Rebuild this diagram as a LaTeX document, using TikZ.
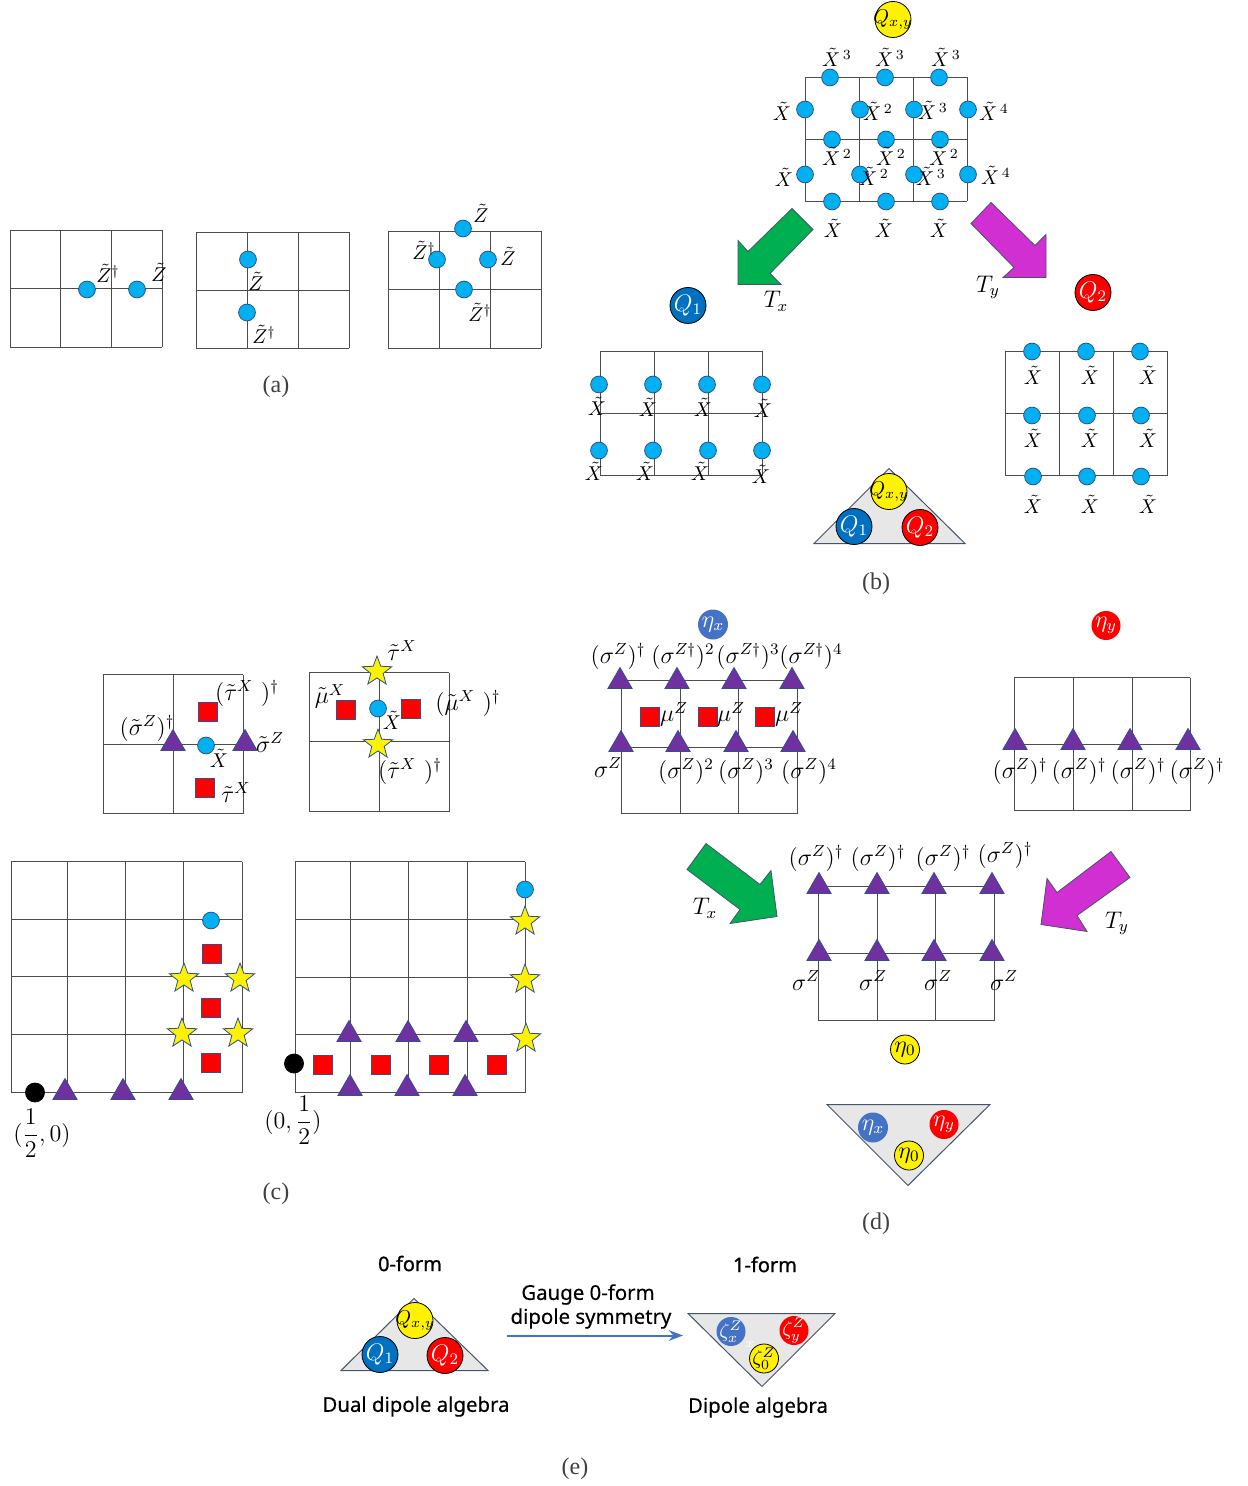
\documentclass[tikz,border=0pt]{standalone}
\usepackage{fontspec}
\usepackage{amsmath}
\usetikzlibrary{positioning,arrows.meta,shapes.geometric}
\newfontfamily\labelsans[FakeBold=0.3]{Noto Sans}
\newfontfamily\labelbold[FakeBold=1.2]{Noto Sans}
\newfontfamily\capserif{Liberation Serif}
\definecolor{dotblue}{HTML}{00B0F0}
\definecolor{edgeblue}{HTML}{2F528F}
\definecolor{violet}{HTML}{7030A0}
\definecolor{qblue}{HTML}{0070C0}
\definecolor{etablue}{HTML}{4472C4}
\definecolor{arrgreen}{HTML}{00B050}
\definecolor{arrpink}{HTML}{D22FD2}
\definecolor{algebra}{HTML}{E7E7E7}
\definecolor{algedge}{HTML}{44546A}

\begin{document}
\begin{tikzpicture}[
        x=0.5pt, y=-0.5pt,
        gridl/.style={draw=black!70, line width=0.5pt},
        qdot/.style={circle, draw=edgeblue, fill=dotblue, inner sep=0pt, minimum size=8.4pt, line width=0.4pt},
        tri/.style={regular polygon, regular polygon sides=3, draw=edgeblue, fill=violet, inner sep=0pt, minimum size=14pt, line width=0.4pt},
        sq/.style={rectangle, draw=edgeblue, fill=red, inner sep=0pt, minimum size=9.5pt, line width=0.4pt},
        strn/.style={star, star points=5, star point ratio=2.4, draw=edgeblue, fill=yellow, inner sep=0pt, minimum size=15.5pt, line width=0.4pt},
        origin/.style={circle, draw=black, fill=black, inner sep=0pt, minimum size=9.5pt},
        chg/.style={circle, draw=black, line width=0.4pt, inner sep=0pt, minimum size=18pt},
        chgs/.style={circle, inner sep=0pt, minimum size=14.5pt},
        lbl/.style={inner sep=0pt, font=\large},
        lblx/.style={inner sep=0pt},
        captxt/.style={inner sep=0pt, text=black!75, font=\capserif\large},
        sans/.style={inner sep=0pt, font=\labelsans\fontsize{10.2}{12}\selectfont},
        sansb/.style={inner sep=0pt, font=\labelbold\fontsize{10}{12}\selectfont},
        alg/.style={draw=algedge, fill=algebra, line width=0.5pt},
        bigarr/.style={draw=algedge, line width=0.4pt},
    ]
    \useasboundingbox (0,-0.5) rectangle (1247,1485.5);

    % Panel (a)
    \foreach \x in {10,60,111,162} \draw[gridl] (\x,230) -- (\x,347);
    \foreach \y in {230,288,347} \draw[gridl] (10,\y) -- (162,\y);
    \foreach \x in {196,247,298,349} \draw[gridl] (\x,232) -- (\x,348);
    \foreach \y in {232,290,348} \draw[gridl] (196,\y) -- (349,\y);
    \foreach \x in {388,439,490,541} \draw[gridl] (\x,231) -- (\x,348);
    \foreach \y in {231,289,348} \draw[gridl] (388,\y) -- (541,\y);
    \foreach \x/\y [count=\i] in {87/289,137/289,248/259,247/312,463/228,437/259,488/259,464/289}
        \node[qdot] (ad\i) at (\x,\y) {};
    \foreach \x/\y [count=\i] in {159/272,256/281,481/213,508/256}
        \node[lblx] (az\i) at (\x,\y) {$\tilde{Z}$};
    \foreach \x/\y [count=\i] in {108/273,264/334,424/250,480/312}
        \node[lblx] (azd\i) at (\x,\y) {$\tilde{Z}^{\dagger}$};
    \node[captxt] (capa) at (276,386) {(a)};

    % Panel (b), top lattice
    \foreach \x in {805,859,913,967} \draw[gridl] (\x,77) -- (\x,201);
    \foreach \y in {77,139,201} \draw[gridl] (805,\y) -- (967,\y);
    \foreach \x/\y [count=\i] in {830/77,885/77,939/77,805/109,860/109,914/109,968/109,832/139,886/139,940/139,805/174,860/174,914/174,968/174,832/201,886/201,940/201}
        \node[qdot] (bt\i) at (\x,\y) {};
    \foreach \x/\y/\t [count=\i] in {837/57/3,890/57/3,946/57/3,878/111/2,933/110/3,994/111/4,837/156/2,891/156/2,944/156/2,874/176/2,931/176/3,996/175/4}
        \node[lblx] (btl\i) at (\x,\y) {$\tilde{X}^{\,\t}$};
    \foreach \x/\y [count=\i] in {782/111,784/177,833/228,884/228,939/228}
        \node[lblx] (btx\i) at (\x,\y) {$\tilde{X}$};
    \node[chg, fill=yellow, label={center:$Q_{x,y}$}] (qxy) at (893,19) {};

    % Panel (b), arrows
    \draw[bigarr, fill=arrgreen] (792,208) -- (813,229) -- (770,273) -- (781,284) -- (738,284) -- (738,240) -- (748,251) -- cycle;
    \draw[bigarr, fill=arrpink] (991,202) -- (971,223) -- (1014,267) -- (1003,277) -- (1046,277) -- (1046,234) -- (1035,245) -- cycle;
    \node[lbl] (tx1) at (776,301) {$T_x$};
    \node[lbl] (ty1) at (988,287) {$T_y$};

    % Panel (b), left and right lattices
    \node[chg, fill=qblue, label={center:\large\textcolor{white}{$Q_1$}}] (q1) at (688,305) {};
    \node[chg, fill=red, label={center:\large\textcolor{white}{$Q_2$}}] (q2) at (1093,292) {};
    \foreach \x in {600,654,708,762} \draw[gridl] (\x,351) -- (\x,475);
    \foreach \y in {351,413,475} \draw[gridl] (600,\y) -- (762,\y);
    \foreach \x/\y [count=\i] in {599/384,653/384,707/384,762/384,599/450,653/450,708/450,762/450}
        \node[qdot] (bl\i) at (\x,\y) {};
    \foreach \x/\y [count=\i] in {597/406,648/407,703/407,763/408,594/471,645/471,700/471,761/474}
        \node[lblx] (blx\i) at (\x,\y) {$\tilde{X}$};
    \foreach \x in {1005,1059,1113,1167} \draw[gridl] (\x,351) -- (\x,475);
    \foreach \y in {351,413,475} \draw[gridl] (1005,\y) -- (1167,\y);
    \foreach \x/\y [count=\i] in {1032/351,1086/351,1140/351,1032/415,1087/415,1141/415,1033/476,1087/476,1141/476}
        \node[qdot] (br\i) at (\x,\y) {};
    \foreach \x/\y [count=\i] in {1033/375,1090/375,1148/375,1033/438,1090/438,1148/438,1033/504,1090/504,1148/504}
        \node[lblx] (brx\i) at (\x,\y) {$\tilde{X}$};

    % Panel (b), algebra
    \draw[alg] (889,468) -- (965,543) -- (814,543) -- cycle;
    \node[chg, fill=yellow, label={center:$Q_{x,y}$}] (tqxy) at (889,491) {};
    \node[chg, fill=qblue, label={center:\large\textcolor{white}{$Q_1$}}] (tq1) at (854,526) {};
    \node[chg, fill=red, label={center:\large\textcolor{white}{$Q_2$}}] (tq2) at (920,527) {};
    \node[captxt] (capb) at (876,583) {(b)};

    % Panel (c), small plaquettes
    \foreach \x in {103,173,243} \draw[gridl] (\x,674) -- (\x,813);
    \foreach \y in {674,744,813} \draw[gridl] (103,\y) -- (243,\y);
    \foreach \x in {309,379,449} \draw[gridl] (\x,672) -- (\x,811);
    \foreach \y in {672,741,811} \draw[gridl] (309,\y) -- (449,\y);
    \foreach \x/\y [count=\i] in {208/711,205/787,346/709,411/708}
        \node[sq] (cs\i) at (\x,\y) {};
    \node[tri] (ct1) at (173,743) {};
    \node[tri] (ct2) at (245,743) {};
    \node[qdot] (cd1) at (206,745) {};
    \node[qdot] (cd2) at (378,708) {};
    \node[strn] (cst1) at (377,671) {};
    \node[strn] (cst2) at (378,744) {};
    \node[lbl] at (247,693) (cl1) {$(\tilde{\tau}^{X}\ )^{\dagger}$};
    \node[lbl] at (147,728) (cl2) {$(\tilde{\sigma}^{Z})^{\dagger}$};
    \node[lbl] at (270,742) (cl3) {$\tilde{\sigma}^{Z}$};
    \node[lblx] at (219,758) (cl4) {$\tilde{X}$};
    \node[lbl] at (236,792) (cl5) {$\tilde{\tau}^{X}$};
    \node[lbl] at (402,650) (cl6) {$\tilde{\tau}^{X}$};
    \node[lbl] at (330,696) (cl7) {$\tilde{\mu}^{X}$};
    \node[lbl] at (468,703) (cl8) {$(\tilde{\mu}^{X}\ )^{\dagger}$};
    \node[lblx] at (392,720) (cl9) {$\tilde{X}$};
    \node[lbl] at (410,771) (cl10) {$(\tilde{\tau}^{X}\ )^{\dagger}$};

    % Panel (c), large lattices
    \foreach \x in {11,67,125,183,242} \draw[gridl] (\x,861) -- (\x,1092);
    \foreach \y in {861,919,976,1034,1092} \draw[gridl] (11,\y) -- (242,\y);
    \foreach \x in {295,350,408,467,525} \draw[gridl] (\x,861) -- (\x,1092);
    \foreach \y in {861,919,977,1034,1092} \draw[gridl] (295,\y) -- (525,\y);
    \node[qdot] (cd3) at (211,920) {};
    \node[qdot] (cd4) at (525,889) {};
    \foreach \x/\y [count=\i] in {212/953,211/1007,211/1062,323/1064,381/1064,439/1064,497/1064}
        \node[sq] (cbs\i) at (\x,\y) {};
    \foreach \x/\y [count=\i] in {184/978,240/978,182/1033,238/1033,525/921,525/979,526/1038}
        \node[strn] (cbst\i) at (\x,\y) {};
    \foreach \x/\y [count=\i] in {65/1092,123/1092,181/1092,349/1034,408/1034,466/1034,350/1088,407/1088,465/1088}
        \node[tri] (cbt\i) at (\x,\y) {};
    \node[origin] (o1) at (35,1092) {};
    \node[origin] (o2) at (294,1063) {};
    \node[lbl] (ol1) at (42,1133) {$(\dfrac{1}{2},0)$};
    \node[lbl] (ol2) at (293,1120) {$(0,\dfrac{1}{2})$};
    \node[captxt] (capc) at (276,1193) {(c)};

    % Panel (d), top lattices
    \node[chgs, minimum size=15pt, fill=etablue, label={center:\large\textcolor{white}{$\eta_x$}}] (ex) at (713,624) {};
    \node[chgs, fill=red, label={center:\large\textcolor{white}{$\eta_y$}}] (ey) at (1106,625) {};
    \foreach \x in {621,680,738,797} \draw[gridl] (\x,680) -- (\x,813);
    \foreach \y in {680,747,813} \draw[gridl] (621,\y) -- (797,\y);
    \foreach \x/\y [count=\i] in {620/681,677/681,734/681,792/681,621/744,678/744,736/744,793/744}
        \node[tri] (dt\i) at (\x,\y) {};
    \foreach \x [count=\i] in {650,708,765} \node[sq] (ds\i) at (\x,716) {};
    \foreach \x [count=\i] in {674,731,789} \node[lbl] (dm\i) at (\x,714) {$\mu^{Z}$};
    \node[lbl] (dl1) at (618,656) {$(\sigma^{Z})^{\dagger}$};
    \node[lbl] (dl2) at (683,656) {$(\sigma^{Z\dagger})^{2}$};
    \node[lbl] (dl3) at (748,656) {$(\sigma^{Z\dagger})^{3}$};
    \node[lbl] (dl4) at (811,656) {$(\sigma^{Z\dagger})^{4}$};
    \node[lbl] (dl5) at (608,767) {$\sigma^{Z}$};
    \node[lbl] (dl6) at (686,771) {$(\sigma^{Z})^{2}$};
    \node[lbl] (dl7) at (746,771) {$(\sigma^{Z})^{3}$};
    \node[lbl] (dl8) at (809,771) {$(\sigma^{Z})^{4}$};
    \foreach \x in {1014,1073,1132,1190} \draw[gridl] (\x,677) -- (\x,810);
    \foreach \y in {677,744,810} \draw[gridl] (1014,\y) -- (1190,\y);
    \foreach \x [count=\i] in {1015,1073,1130,1188} \node[tri] (dr\i) at (\x,742) {};
    \foreach \x [count=\i] in {1020,1079,1138,1197} \node[lbl] (drl\i) at (\x,771) {$(\sigma^{Z})^{\dagger}$};

    % Panel (d), arrows
    \draw[bigarr, fill=arrgreen] (706,843) -- (687,869) -- (740,909) -- (730,923) -- (777,916) -- (771,870) -- (760,884) -- cycle;
    \draw[bigarr, fill=arrpink] (1111,851) -- (1130,877) -- (1077,915) -- (1087,931) -- (1041,924) -- (1047,878) -- (1057,892) -- cycle;
    \node[lbl] (tx2) at (705,908) {$T_x$};
    \node[lbl] (ty2) at (1117,923) {$T_y$};

    % Panel (d), bottom lattice
    \foreach \x in {818,877,935,994} \draw[gridl] (\x,886) -- (\x,1020);
    \foreach \y in {886,953,1020} \draw[gridl] (818,\y) -- (994,\y);
    \foreach \x [count=\i] in {819,877,934,992} {
        \node[tri] (dbt\i) at (\x,886) {};
        \node[tri] (dbu\i) at (\x,953) {};
    }
    \foreach \x/\y [count=\i] in {816/858,878/858,943/858,1005/855}
        \node[lbl] (dbl\i) at (\x,\y) {$(\sigma^{Z})^{\dagger}$};
    \foreach \x [count=\i] in {806,873,938,1004} \node[lbl] (dbz\i) at (\x,980) {$\sigma^{Z}$};
    \node[chgs, draw=black, line width=0.4pt, fill=yellow, label={center:\large$\eta_0$}] (e0) at (905,1049) {};

    % Panel (d), algebra
    \draw[alg] (827,1104) -- (990,1104) -- (908,1185) -- cycle;
    \node[chgs, minimum size=15pt, fill=etablue, label={center:\large\textcolor{white}{$\eta_x$}}] (tex) at (873,1127) {};
    \node[chgs, fill=red, label={center:\large\textcolor{white}{$\eta_y$}}] (tey) at (944,1124) {};
    \node[chgs, draw=black, line width=0.4pt, fill=yellow, label={center:\large$\eta_0$}] (te0) at (909,1155) {};
    \node[captxt] (capd) at (876,1223) {(d)};

    % Panel (e)
    \draw[alg] (414,1298) -- (488,1370) -- (341,1370) -- cycle;
    \node[chg, fill=yellow, label={center:$Q_{x,y}$}] (eqxy) at (415,1320) {};
    \node[chg, fill=qblue, label={center:\large\textcolor{white}{$Q_1$}}] (eq1) at (380,1354) {};
    \node[chg, fill=red, label={center:\large\textcolor{white}{$Q_2$}}] (eq2) at (445,1355) {};
    \draw[alg] (688,1313) -- (835,1313) -- (762,1386) -- cycle;
    \node[chgs, fill=etablue, label={center:\textcolor{white}{$\zeta_x^{Z}$}}] (zx) at (731,1331) {};
    \node[chgs, fill=red, label={center:\textcolor{white}{$\zeta_y^{Z}$}}] (zy) at (794,1330) {};
    \node[chgs, draw=black, line width=0.4pt, fill=yellow, label={center:$\zeta_0^{Z}$}] (z0) at (764,1358) {};
    \node[inner sep=0pt, text=white] (zw) at (750,1344) {\scriptsize$x$};
    \coordinate (gl) at (507,1335);
    \coordinate (gr) at (683,1335);
    \draw[-{Stealth[length=2.5mm]}, draw=etablue, line width=1pt] (gl) -- (gr);
    \node[sansb] (f0) at (410,1263) {0-form};
    \node[sansb] (f1) at (765,1264) {1-form};
    \node[sans] (g1) at (588,1294) {Gauge 0-form};
    \node[sans] (g2) at (591,1318) {dipole symmetry};
    \node[sans] (d1) at (416,1406) {Dual dipole algebra};
    \node[sans] (d2) at (758,1407) {Dipole algebra};
    \node[captxt] (cape) at (575,1468) {(e)};

    \end{tikzpicture}
\end{document}
